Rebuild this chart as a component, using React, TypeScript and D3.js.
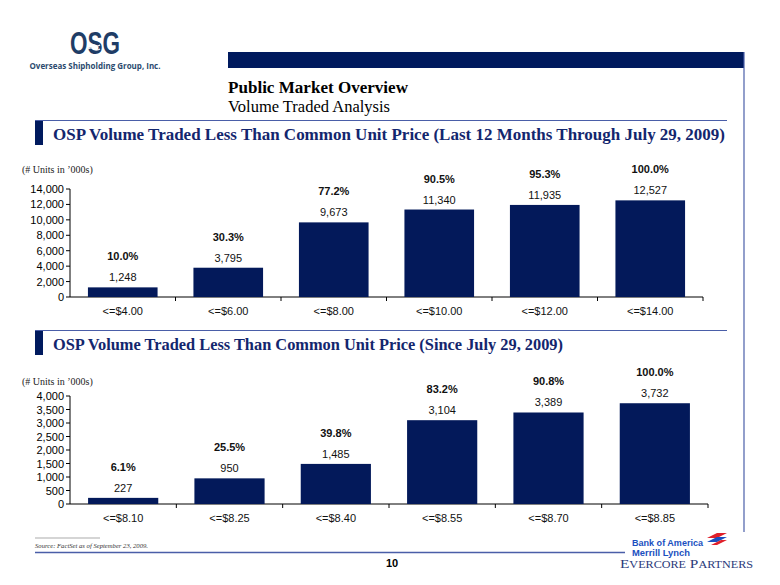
import React from "react";
import * as d3 from "d3";

const cats1 = ["<=$4.00", "<=$6.00", "<=$8.00", "<=$10.00", "<=$12.00", "<=$14.00"];
const values1 = [1248, 3795, 9673, 11340, 11935, 12527];
const pcts1 = ["10.0%", "30.3%", "77.2%", "90.5%", "95.3%", "100.0%"];
const yTicks1 = [0, 2000, 4000, 6000, 8000, 10000, 12000, 14000];

const cats2 = ["<=$8.10", "<=$8.25", "<=$8.40", "<=$8.55", "<=$8.70", "<=$8.85"];
const values2 = [227, 950, 1485, 3104, 3389, 3732];
const pcts2 = ["6.1%", "25.5%", "39.8%", "83.2%", "90.8%", "100.0%"];
const yTicks2 = [0, 500, 1000, 1500, 2000, 2500, 3000, 3500, 4000];

const NAVY = "#03195a";
const RULE = "#4a5ea8";
const SANS = "'Liberation Sans', Arial, sans-serif";
const SERIF = "'Liberation Serif', 'Times New Roman', serif";
const fmt = d3.format(",");

type ChartProps = {
  cats: string[];
  values: number[];
  pcts: string[];
  ticks: number[];
  left: number;
  right: number;
  top: number;
  bottom: number;
  labelY: number;
};

function BarChart({ cats, values, pcts, ticks, left, right, top, bottom, labelY }: ChartProps) {
  const x = d3.scaleBand<string>().domain(cats).range([left, right]).paddingInner(0.34).paddingOuter(0.17);
  const xb = d3.scaleBand<string>().domain(cats).range([left, right]);
  const y = d3.scaleLinear().domain([0, ticks[ticks.length - 1]]).range([bottom, top]);
  return (
    <g>
      <text x={22} y={labelY} fontFamily={SERIF} fontSize={10} fill="#222">
        (# Units in ’000s)
      </text>
      <line x1={left} x2={left} y1={top} y2={bottom} stroke="#000" strokeWidth={1} />
      {ticks.map((t) => (
        <g key={t}>
          <line x1={left - 4} x2={left} y1={y(t)} y2={y(t)} stroke="#000" />
          <text x={left - 6} y={y(t) + 4} textAnchor="end" fontFamily={SANS} fontSize={11} fill="#000">
            {fmt(t)}
          </text>
        </g>
      ))}
      <line x1={left} x2={right} y1={bottom} y2={bottom} stroke="#000" />
      {cats.map((c) => (
        <line key={"t" + c} x1={xb(c)! + xb.bandwidth()} x2={xb(c)! + xb.bandwidth()} y1={bottom} y2={bottom + 4} stroke="#000" />
      ))}
      {cats.map((c, i) => {
        const cx = x(c)! + x.bandwidth() / 2;
        const yt = y(values[i]);
        return (
          <g key={c}>
            <rect x={x(c)} y={yt} width={x.bandwidth()} height={bottom - yt} fill={NAVY} />
            <text x={cx} y={yt - 6} textAnchor="middle" fontFamily={SANS} fontSize={11} fill="#111">
              {fmt(values[i])}
            </text>
            <text x={cx} y={yt - 27} textAnchor="middle" fontFamily={SANS} fontSize={11} fontWeight="bold" fill="#111">
              {pcts[i]}
            </text>
            <text x={cx} y={bottom + 17.5} textAnchor="middle" fontFamily={SANS} fontSize={11} fill="#111">
              {c}
            </text>
          </g>
        );
      })}
    </g>
  );
}

export default function App() {
  return (
    <svg
      width={780}
      height={585}
      viewBox="0 0 780 585"
      style={{ position: "absolute", left: 0, top: 0, background: "#fff" }}
    >
      <rect x={0} y={0} width={780} height={585} fill="#fff" />
      {/* OSG logo */}
      <text x={95} y={54} textAnchor="middle" fontFamily="'Liberation Sans Narrow', 'Liberation Sans', Arial" fontWeight="bold" fontSize={31} fill="#1f3d66" textLength={50} lengthAdjust="spacingAndGlyphs">
        OSG
      </text>
      <path d="M88 45 q3 -2 6 0 t6 0 M88 49 q3 -2 6 0 t6 0" stroke="#fff" strokeWidth={1.2} fill="none" />
      <text x={95} y={69} textAnchor="middle" fontFamily="'Open Sans', 'Liberation Sans', Arial" fontWeight="bold" fontSize={8.5} fill="#2b4a6e" textLength={131} lengthAdjust="spacingAndGlyphs">
        Overseas Shipholding Group, Inc.
      </text>

      {/* header bar and frame */}
      <rect x={228} y={52} width={516} height={16} fill="#001a5e" />
      <line x1={744} x2={744} y1={52} y2={532} stroke={RULE} strokeWidth={1.2} />
      <text x={228} y={92.5} fontFamily={SERIF} fontWeight="bold" fontSize={17.5} fill="#000" textLength={180} lengthAdjust="spacingAndGlyphs">
        Public Market Overview
      </text>
      <text x={228} y={111.5} fontFamily={SERIF} fontSize={17} fill="#000" textLength={162} lengthAdjust="spacingAndGlyphs">
        Volume Traded Analysis
      </text>

      {/* section 1 */}
      <line x1={35} x2={727} y1={120.5} y2={120.5} stroke={RULE} strokeWidth={1} />
      <rect x={35} y={121} width={8} height={24} fill="#001a5e" />
      <text x={53} y={140} fontFamily={SERIF} fontWeight="bold" fontSize={17} fill="#13266e" textLength={672} lengthAdjust="spacingAndGlyphs">
        OSP Volume Traded Less Than Common Unit Price (Last 12 Months Through July 29, 2009)
      </text>
      <BarChart cats={cats1} values={values1} pcts={pcts1} ticks={yTicks1} left={70} right={703} top={189} bottom={297} labelY={173} />

      {/* section 2 */}
      <line x1={35} x2={727} y1={330.5} y2={330.5} stroke={RULE} strokeWidth={1} />
      <rect x={35} y={331} width={8} height={24} fill="#001a5e" />
      <text x={53} y={350} fontFamily={SERIF} fontWeight="bold" fontSize={17} fill="#13266e" textLength={510} lengthAdjust="spacingAndGlyphs">
        OSP Volume Traded Less Than Common Unit Price (Since July 29, 2009)
      </text>
      <BarChart cats={cats2} values={values2} pcts={pcts2} ticks={yTicks2} left={70} right={708} top={396} bottom={504} labelY={385} />

      {/* footer */}
      <line x1={35} x2={100} y1={538} y2={538} stroke="#888" strokeWidth={0.7} />
      <text x={35} y={548} fontFamily={SERIF} fontStyle="italic" fontSize={7} fill="#333" textLength={113} lengthAdjust="spacingAndGlyphs">
        Source: FactSet as of September 23, 2009.
      </text>
      <line x1={35} x2={625} y1={552.5} y2={552.5} stroke={RULE} strokeWidth={1.5} />
      <text x={392} y={567} textAnchor="middle" fontFamily={SANS} fontWeight="bold" fontSize={11} fill="#000">
        10
      </text>
      <text x={632} y={545.5} fontFamily={SANS} fontWeight="bold" fontSize={9.5} fill="#1a4fc0" textLength={71} lengthAdjust="spacingAndGlyphs">
        Bank of America
      </text>
      <text x={632} y={555.5} fontFamily={SANS} fontWeight="bold" fontSize={9.5} fill="#1a4fc0" textLength={58} lengthAdjust="spacingAndGlyphs">
        Merrill Lynch
      </text>
      <g>
        <path d="M707 538 l10 -5 l10 0 l-10 5 z" fill="#e0202a" />
        <path d="M707 542 l10 -5 l10 0 l-10 5 z" fill="#1a4fc0" />
        <path d="M711 545 l10 -5 l6 0 l-10 5 z" fill="#e0202a" />
      </g>
      <text x={620} y={568} fontFamily={SERIF} fontSize={12} fill="#2a3a7a" textLength={133} lengthAdjust="spacingAndGlyphs">
        E<tspan fontSize={9.5}>VERCORE</tspan> P<tspan fontSize={9.5}>ARTNERS</tspan>
      </text>
    </svg>
  );
}
